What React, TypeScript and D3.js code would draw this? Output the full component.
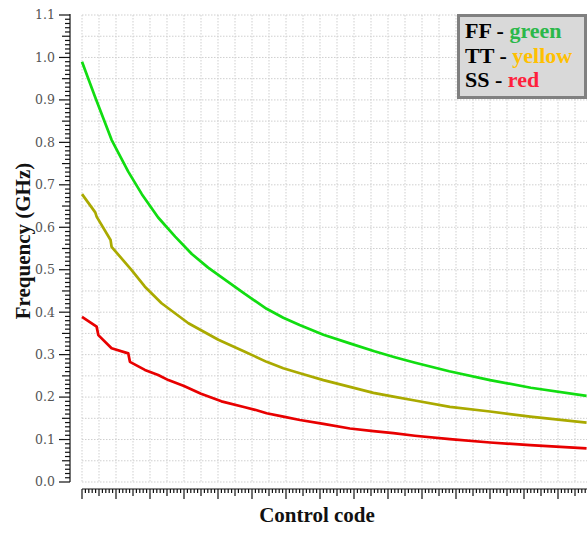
import React, { useEffect, useRef } from 'react';
import * as d3 from 'd3';

// control code (arbitrary units, no tick labels) vs frequency in GHz
const ffCode = [0, 3.8, 8.7, 13.6, 17.6, 22.4, 27.4, 32.3, 37.1, 41.1, 47.9, 54.3, 59.2, 64, 71, 79, 86, 92, 98, 108, 120, 132, 148.4];
const ffFreq = [0.99, 0.908, 0.806, 0.731, 0.678, 0.623, 0.578, 0.537, 0.505, 0.482, 0.443, 0.408, 0.387, 0.37, 0.347, 0.326, 0.308, 0.294, 0.281, 0.261, 0.24, 0.222, 0.203];

const ttCode = [0, 3.9, 4.3, 8.4, 8.7, 14.6, 18.5, 23.4, 31.3, 40.1, 47.9, 54.3, 59.2, 64.1, 71, 78.8, 85.7, 91.6, 97.9, 108.2, 120, 131.8, 148.4];
const ttFreq = [0.678, 0.635, 0.625, 0.57, 0.554, 0.499, 0.46, 0.421, 0.374, 0.335, 0.307, 0.283, 0.268, 0.256, 0.24, 0.224, 0.21, 0.201, 0.192, 0.177, 0.166, 0.154, 0.14];

const ssCode = [0, 4.3, 4.8, 8.7, 13.6, 14.1, 18.5, 22.4, 25.4, 30, 35, 41, 47.9, 50.9, 54.3, 59.2, 64.1, 71, 78.8, 85.7, 91.6, 97.9, 108.2, 120, 131.8, 148.4];
const ssFreq = [0.389, 0.366, 0.346, 0.315, 0.303, 0.283, 0.264, 0.252, 0.24, 0.226, 0.208, 0.19, 0.176, 0.17, 0.162, 0.154, 0.146, 0.137, 0.126, 0.12, 0.115, 0.109, 0.101, 0.093, 0.087, 0.079];

const yTicks = [0, 0.1, 0.2, 0.3, 0.4, 0.5, 0.6, 0.7, 0.8, 0.9, 1.0, 1.1];

const legendItems = [
  { name: 'FF', word: 'green', color: '#2bb84a' },
  { name: 'TT', word: 'yellow', color: '#ffc000' },
  { name: 'SS', word: 'red', color: '#ff1f3d' }
];

const series = [
  { code: ffCode, freq: ffFreq, color: '#11dd11' },
  { code: ttCode, freq: ttFreq, color: '#aaaa00' },
  { code: ssCode, freq: ssFreq, color: '#e80000' }
];

const App = () => {
  const ref = useRef<SVGSVGElement>(null);

  useEffect(() => {
    document.body.style.margin = '0';
    const svg = d3.select(ref.current);
    svg.selectAll('*').remove();

    const x = d3.scaleLinear().domain([0, 150]).range([82, 592]);
    const y = d3.scaleLinear().domain([0, 1.1]).range([482, 15]);
    const xMax = x.invert(587);

    // grid
    const grid = svg.append('g').attr('stroke', '#cfcfcf').attr('stroke-dasharray', '1.5,1.5');
    d3.range(0, 151, 5).forEach((v) => {
      grid.append('line').attr('x1', x(v)).attr('x2', x(v)).attr('y1', y(1.1)).attr('y2', y(0));
    });
    d3.range(0, 23).forEach((i) => {
      const v = i * 0.05;
      grid.append('line').attr('x1', x(0)).attr('x2', 587).attr('y1', y(v)).attr('y2', y(v));
    });

    // y axis
    const yAxis = svg.append('g').attr('stroke', '#111').attr('stroke-width', 1.2);
    yAxis.append('line').attr('x1', 70).attr('x2', 70).attr('y1', y(1.1) - 1).attr('y2', y(0));
    d3.range(0, 111).forEach((i) => {
      const len = i % 10 === 0 ? 11 : i % 5 === 0 ? 8 : 5;
      yAxis.append('line').attr('x1', 70 - len).attr('x2', 70).attr('y1', y(i / 100)).attr('y2', y(i / 100));
    });
    svg
      .append('g')
      .selectAll('text')
      .data(yTicks)
      .join('text')
      .attr('x', 55)
      .attr('y', (d) => y(d))
      .attr('dy', '0.35em')
      .attr('text-anchor', 'end')
      .attr('font-family', 'DejaVu Serif')
      .attr('font-size', 12.5)
      .attr('fill', '#555')
      .text((d) => d.toFixed(1));

    // x axis
    const xAxis = svg.append('g').attr('stroke', '#111').attr('stroke-width', 1.2);
    xAxis.append('line').attr('x1', x(0)).attr('x2', 587).attr('y1', 489).attr('y2', 489);
    d3.range(0, Math.floor(xMax) + 1).forEach((v) => {
      const len = v % 10 === 0 ? 10 : v % 5 === 0 ? 7 : 4;
      xAxis.append('line').attr('x1', x(v)).attr('x2', x(v)).attr('y1', 489).attr('y2', 489 + len);
    });

    // curves
    const line = d3
      .line<[number, number]>()
      .x((d) => x(d[0]))
      .y((d) => y(d[1]));
    series.forEach((s) => {
      const pts = s.code.map((c, i) => [c, s.freq[i]] as [number, number]);
      svg
        .append('path')
        .datum(pts)
        .attr('d', line)
        .attr('fill', 'none')
        .attr('stroke', s.color)
        .attr('stroke-width', 2.7)
        .attr('stroke-linejoin', 'round');
    });

    // axis titles
    svg
      .append('text')
      .attr('transform', 'translate(30,241) rotate(-90)')
      .attr('text-anchor', 'middle')
      .attr('font-family', 'Liberation Serif')
      .attr('font-weight', 'bold')
      .attr('font-size', 21)
      .attr('fill', '#111')
      .text('Frequency (GHz)');
    svg
      .append('text')
      .attr('x', 317)
      .attr('y', 522)
      .attr('text-anchor', 'middle')
      .attr('font-family', 'Liberation Serif')
      .attr('font-weight', 'bold')
      .attr('font-size', 21)
      .attr('fill', '#111')
      .text('Control code');

    // legend
    const legend = svg.append('g');
    legend
      .append('rect')
      .attr('x', 458.5)
      .attr('y', 15.5)
      .attr('width', 127)
      .attr('height', 82)
      .attr('fill', '#d9d9d9')
      .attr('stroke', '#808080')
      .attr('stroke-width', 3);
    legendItems.forEach((d, i) => {
      const t = legend
        .append('text')
        .attr('x', 465)
        .attr('y', 38 + i * 24.5)
        .attr('font-family', 'Liberation Serif')
        .attr('font-weight', 'bold')
        .attr('font-size', 22);
      t.append('tspan').attr('fill', '#000').text(`${d.name} - `);
      t.append('tspan').attr('fill', d.color).text(d.word);
    });
  }, []);

  return <svg ref={ref} width={587} height={533} style={{ display: 'block' }} />;
};

export default App;
